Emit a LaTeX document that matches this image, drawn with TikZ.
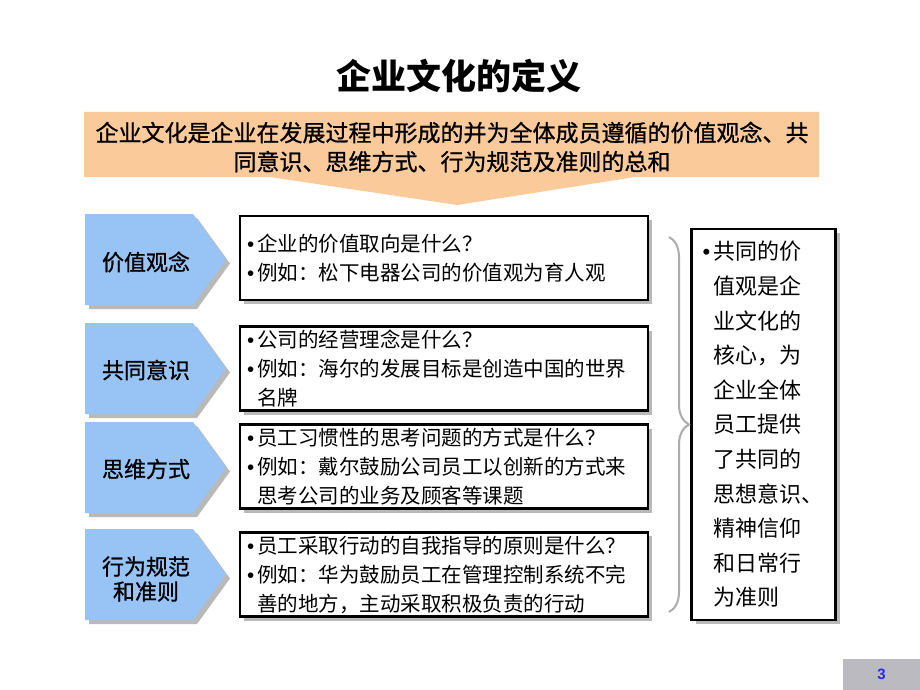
\documentclass[tikz,border=0pt]{standalone}
\usepackage{fontspec}
\usepackage{xcolor}
\usepackage{tikz}
\usetikzlibrary{positioning, shadows, decorations.pathreplacing}
\setmainfont{Liberation Sans}
\newfontfamily\cjk{Noto Sans CJK SC}
\newfontfamily\cjkhei[FakeBold=0.9]{Noto Sans CJK SC}
\newcommand\bul{{\rmfamily\textbullet}\kern3pt}
\definecolor{bannerorange}{RGB}{250,202,155}
\definecolor{labelblue}{RGB}{152,196,245}
\definecolor{pagegray}{RGB}{186,186,192}
\definecolor{pageblue}{RGB}{40,40,225}
\tikzset{
    boxshadow/.style={drop shadow={shadow xshift=4pt, shadow yshift=-4pt, fill=gray!55, opacity=1}},
    arrowfill/.style={fill=labelblue, boxshadow},
    labeltext/.style={align=center, font=\cjkhei\fontsize{22}{25}\selectfont},
    textbox/.style={draw=black, line width=2.5pt, fill=white, minimum width=408pt,
        minimum height=84pt, text width=394pt, align=left, inner xsep=6pt,
        font=\cjk\fontsize{20.5}{29}\selectfont, boxshadow}
}

\begin{document}
\begin{tikzpicture}[x=1pt, y=-1pt]
            \useasboundingbox (0,0) rectangle (920,690);
            \fill[white] (0,0) rectangle (920,690);
            \node[font=\cjk\bfseries\fontsize{35}{40}\selectfont] (title) at (459,76) {企业文化的定义};
            \fill[bannerorange] (84,112) -- (819,112) -- (819,177) -- (635,177) -- (457,205)
                -- (270,177) -- (84,177) -- cycle;
            \node[align=center, font=\cjkhei\fontsize{23}{29}\selectfont] (banner) at (452,147)
                {企业文化是企业在发展过程中形成的并为全体成员遵循的价值观念、共\\同意识、思维方式、行为规范及准则的总和};
            \foreach \y in {259.5,368.5,467.5,574.5}
                \fill[arrowfill] (85,\y-45.5) -- (193,\y-45.5) -- (226,\y) -- (193,\y+45.5) -- (85,\y+45.5) -- cycle;
            \node[labeltext] (values) at (146,262) {价值观念};
            \node[labeltext] (sense) at (146,370) {共同意识};
            \node[labeltext] (thinking) at (146,469) {思维方式};
            \node[labeltext] (norms) at (146,579) {行为规范\\和准则};
            \node[textbox] (valuesbox) at (444,258)
                {\bul 企业的价值取向是什么？\\\bul 例如：松下电器公司的价值观为育人观};
            \node[textbox] (sensebox) at (444,368.5)
                {\bul 公司的经营理念是什么？\\\bul 例如：海尔的发展目标是创造中国的世界\\\hphantom{\bul}名牌};
            \node[textbox] (thinkingbox) at (444,466.5)
                {\bul 员工习惯性的思考问题的方式是什么？\\\bul 例如：戴尔鼓励公司员工以创新的方式来\\\hphantom{\bul}思考公司的业务及顾客等课题};
            \node[textbox] (normsbox) at (444,574.5)
                {\bul 员工采取行动的自我指导的原则是什么？\\\bul 例如：华为鼓励员工在管理控制系统不完\\\hphantom{\bul}善的地方，主动采取积极负责的行动};
            \node[textbox, minimum width=139pt, minimum height=391pt, text width=122pt,
                inner xsep=11pt, font=\cjk\fontsize{22}{34.6}\selectfont] (core) at (763.5,424.5)
                {\bul 共同的价\\\hphantom{\bul}值观是企\\\hphantom{\bul}业文化的\\\hphantom{\bul}核心，为\\\hphantom{\bul}企业全体\\\hphantom{\bul}员工提供\\\hphantom{\bul}了共同的\\\hphantom{\bul}思想意识、\\\hphantom{\bul}精神信仰\\\hphantom{\bul}和日常行\\\hphantom{\bul}为准则};
            \coordinate (bracetop) at (669,237);
            \coordinate (bracebot) at (669,612);
            \draw[gray!65, line width=2pt, decorate, decoration={brace, amplitude=20pt}]
                (bracetop) -- (bracebot);
            \node[fill=pagegray, minimum width=77pt, minimum height=31pt, text=pageblue,
                font=\bfseries\fontsize{15}{18}\selectfont] (pagenum) at (881.5,674.5) {3};
        \end{tikzpicture}
\end{document}
